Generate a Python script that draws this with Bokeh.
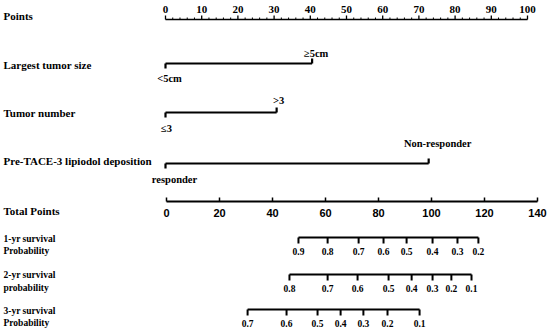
from bokeh.plotting import figure
from bokeh.models import Range1d
from bokeh.core.properties import value
from bokeh.embed import file_html
from bokeh.resources import INLINE

# ---------------- data ----------------
points_major = list(range(0, 101, 10))
points_minor = [v for v in range(0, 101, 2) if v % 10]

size_levels = ["<5cm", "\u22655cm"]
size_points = [0, 40.5]
number_levels = ["\u22643", ">3"]
number_points = [0, 30.7]
tace_levels = ["responder", "Non-responder"]
tace_points = [0, 72.7]

total_ticks = list(range(0, 141, 20))

surv1_probs = [0.9, 0.8, 0.7, 0.6, 0.5, 0.4, 0.3, 0.2]
surv1_total = [49.8, 60.8, 72.5, 81.9, 90.6, 100.4, 109.8, 117.7]
surv2_probs = [0.8, 0.7, 0.6, 0.5, 0.4, 0.3, 0.2, 0.1]
surv2_total = [46.4, 60.8, 72.1, 83.8, 92.5, 100.4, 107.5, 115.1]
surv3_probs = [0.7, 0.6, 0.5, 0.4, 0.3, 0.2, 0.1]
surv3_total = [30.6, 45.3, 57.0, 65.7, 74.3, 83.4, 95.5]

# ---------------- layout ----------------
W, H = 550, 332
PX_PT = 3.62          # pixels per point
P0 = 165              # page x of 0 points
T0, T140 = 166, 537   # page x of total points 0 and 140

def pt_from_page(px):
    return (px - P0) / PX_PT

def tot(tp):
    return pt_from_page(T0 + tp * (T140 - T0) / 140.0)

xs = pt_from_page(0)
p = figure(width=W, height=H, output_backend="svg", toolbar_location=None,
           x_range=Range1d(xs, xs + W / PX_PT), y_range=Range1d(H, 0),
           min_border=0, min_border_left=0, min_border_right=0,
           min_border_top=0, min_border_bottom=0)
p.axis.visible = False
p.grid.visible = False
p.outline_line_color = None
p.background_fill_color = "white"

SERIF = "Liberation Serif"
SANS = "Liberation Sans Narrow"
LBL_X = pt_from_page(3)

def txt(x, y, s, size, font=SERIF, align="left", style="bold", xoff=0):
    p.text(x=[x], y=[y], text=[s], text_font=value(font),
           text_font_size=value(size), text_font_style=style,
           text_align=align, text_baseline="middle", text_color="black",
           x_offset=xoff)

def seg(x0, y0, x1, y1, w=2):
    p.segment(x0=x0, y0=y0, x1=x1, y1=y1, line_color="black", line_width=w)

# Points axis
yP = 19
txt(LBL_X, 15, "Points", "11px")
seg([0], [yP], [100], [yP], 1.5)
seg(points_major, [yP] * len(points_major), points_major, [yP - 4] * len(points_major), 1.3)
seg(points_minor, [yP] * len(points_minor), points_minor, [yP - 2] * len(points_minor), 1)
for v in points_major:
    txt(v, 9, str(v), "11px", font=SANS, align="center", style="bold")

# factor rows
def factor(label, ylab, yline, levels, pts, up_off, low_off, xoffs):
    txt(LBL_X, ylab, label, "11px")
    seg([pts[0]], [yline], [pts[1]], [yline], 2.2)
    seg([pts[0]], [yline], [pts[0]], [yline + 5], 2.2)
    seg([pts[1]], [yline], [pts[1]], [yline - 5], 2.2)
    txt(pts[0], yline + low_off, levels[0], "10.5px", align="center", xoff=xoffs[0])
    txt(pts[1], yline - up_off, levels[1], "10.5px", align="center", xoff=xoffs[1])

factor("Largest tumor size", 64, 63, size_levels, size_points, 10, 15, [4, 4])
factor("Tumor number", 112, 112, number_levels, number_points, 12, 16, [1, 2])
factor("Pre-TACE-3 lipiodol deposition", 160, 163, tace_levels, tace_points, 20, 16, [9, 9])

# Total points axis
yT = 201
txt(LBL_X, 210, "Total Points", "11px")
tt = [tot(v) for v in total_ticks]
seg([tt[0]], [yT], [tt[-1]], [yT], 1.8)
seg(tt, [yT] * len(tt), tt, [yT - 4] * len(tt), 1.5)
for v, x in zip(total_ticks, tt):
    txt(x, 212, str(v), "11px", font="Liberation Sans", align="center", style="bold")

# survival axes
def surv(l1, l2, ylab1, ylab2, yline, probs, tots):
    txt(LBL_X, ylab1, l1, "9.5px")
    txt(LBL_X, ylab2, l2, "9.5px")
    xx = [tot(v) for v in tots]
    seg([xx[0]], [yline], [xx[-1]], [yline], 2)
    seg(xx, [yline] * len(xx), xx, [yline + 6] * len(xx), 2)
    for pr, x in zip(probs, xx):
        txt(x, yline + 14, str(pr), "9.5px", align="center")

surv("1-yr survival", "Probability", 238, 250, 237, surv1_probs, surv1_total)
surv("2-yr survival", "probability", 274, 287, 274, surv2_probs, surv2_total)
surv("3-yr survival", "Probability", 310, 322, 309, surv3_probs, surv3_total)

open("out.html", "w").write(file_html(p, INLINE))
